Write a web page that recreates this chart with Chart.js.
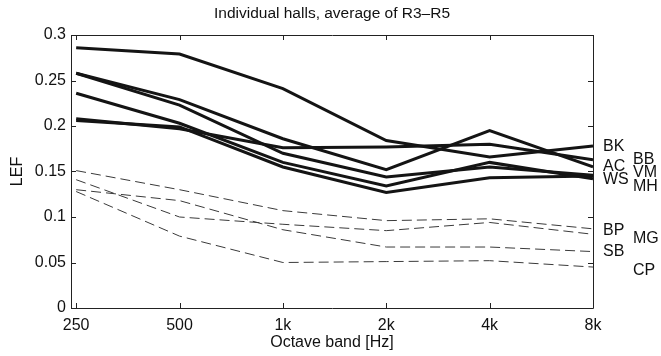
<!DOCTYPE html>
<html><head><meta charset="utf-8">
<script src="https://cdn.jsdelivr.net/npm/chart.js@4/dist/chart.umd.min.js"></script>
<style>html,body{margin:0;padding:0;background:#fff}</style>
</head><body>
<canvas id="c" width="661" height="356"></canvas>
<script>
// Octave band categories (x axis)
const bands = ['250', '500', '1k', '2k', '4k', '8k'];
// Y tick labels
const yTickLabels = ['0', '0.05', '0.1', '0.15', '0.2', '0.25', '0.3'];

// Solid lines (halls)
const BK = [0.286, 0.279, 0.241, 0.184, 0.166, 0.178];
const BB = [0.208, 0.197, 0.176, 0.177, 0.180, 0.163];
const AC = [0.258, 0.229, 0.186, 0.152, 0.195, 0.155];
const VM = [0.258, 0.223, 0.170, 0.144, 0.155, 0.146];
const WS = [0.236, 0.203, 0.160, 0.134, 0.160, 0.142];
const MH = [0.206, 0.199, 0.155, 0.127, 0.143, 0.145];
// Dashed lines (halls)
const BP = [0.151, 0.130, 0.107, 0.096, 0.098, 0.087];
const MG = [0.141, 0.100, 0.092, 0.085, 0.094, 0.081];
const SB = [0.130, 0.118, 0.086, 0.067, 0.067, 0.062];
const CP = [0.128, 0.079, 0.050, 0.051, 0.052, 0.045];

const solidSeries = [BK, BB, AC, VM, WS, MH];
const dashedSeries = [BP, MG, SB, CP];

// End labels at right of the plot
const labelNames = ['BK', 'BB', 'AC', 'VM', 'WS', 'MH', 'BP', 'MG', 'SB', 'CP'];
const labelValues = [0.177, 0.163, 0.155, 0.149, 0.141, 0.133, 0.085, 0.076, 0.062, 0.041];
const labelColumn = [0, 1, 0, 1, 0, 1, 0, 1, 0, 1];

const FONT = '"Liberation Sans", Arial, Helvetica, sans-serif';

const toPts = arr => arr.map((v, i) => ({x: i, y: v}));

const datasets = [];
solidSeries.forEach((s, k) => datasets.push({
  label: labelNames[k], data: toPts(s), borderColor: '#141414', borderWidth: 3,
  pointRadius: 0, tension: 0, fill: false
}));
dashedSeries.forEach((s, k) => datasets.push({
  label: labelNames[6 + k], data: toPts(s), borderColor: '#3a3a3a', borderWidth: 1,
  borderDash: [10, 5], pointRadius: 0, tension: 0, fill: false
}));

const boxPlugin = {
  id: 'box',
  afterDraw(chart) {
    const {ctx, chartArea: a, scales: {x, y}} = chart;
    ctx.save();
    ctx.strokeStyle = '#222';
    ctx.lineWidth = 1;
    ctx.beginPath();
    ctx.rect(a.left + 0.5, a.top + 0.5, a.right - a.left, a.bottom - a.top);
    ctx.stroke();
    const tl = 5;
    ctx.beginPath();
    bands.forEach((b, i) => {
      const px = Math.round(x.getPixelForValue(i)) + 0.5;
      ctx.moveTo(px, a.bottom); ctx.lineTo(px, a.bottom - tl);
      ctx.moveTo(px, a.top); ctx.lineTo(px, a.top + tl);
    });
    yTickLabels.forEach((t, i) => {
      const py = Math.round(y.getPixelForValue(i * 0.05)) + 0.5;
      ctx.moveTo(a.left, py); ctx.lineTo(a.left + tl, py);
      ctx.moveTo(a.right, py); ctx.lineTo(a.right - tl, py);
    });
    ctx.stroke();
    // labels
    ctx.fillStyle = '#111';
    ctx.font = '16px ' + FONT;
    ctx.textBaseline = 'middle';
    ctx.textAlign = 'left';
    labelNames.forEach((n, i) => {
      const px = a.right + 10 + labelColumn[i] * 30;
      ctx.fillText(n, px, y.getPixelForValue(labelValues[i]));
    });
    ctx.restore();
  }
};

new Chart(document.getElementById('c'), {
  type: 'line',
  data: {datasets},
  options: {
    responsive: false,
    animation: false,
    devicePixelRatio: 1,
    layout: {padding: {left: 0, right: 68, top: 0, bottom: 0}},
    plugins: {
      legend: {display: false},
      tooltip: {enabled: false},
      title: {
        display: true, fullSize: false, text: 'Individual halls, average of R3\u2013R5', color: '#111',
        font: {family: FONT, size: 15.5, weight: 'normal'},
        padding: {top: 4, bottom: 12.4}
      }
    },
    scales: {
      x: {
        type: 'linear', min: -0.05, max: 5.0,
        grid: {display: false, drawTicks: false},
        border: {display: false},
        afterFit(s) { s.height = 48; },
        afterBuildTicks(s) { s.ticks = bands.map((b, i) => ({value: i})); },
        ticks: {
          autoSkip: false, maxRotation: 0, padding: 8, color: '#111',
          font: {family: FONT, size: 16},
          callback: (v) => bands[Math.round(v)]
        },
        title: {display: true, text: 'Octave band [Hz]', color: '#111',
          font: {family: FONT, size: 16}, padding: {top: 0, bottom: 4}}
      },
      y: {
        type: 'linear', min: 0, max: 0.3,
        grid: {display: false, drawTicks: false},
        border: {display: false},
        afterFit(s) { s.width = 71; },
        afterBuildTicks(s) { s.ticks = yTickLabels.map((t, i) => ({value: i * 0.05})); },
        ticks: {
          padding: 5, color: '#111',
          font: {family: FONT, size: 16},
          callback: (v) => yTickLabels[Math.round(v / 0.05)]
        },
        title: {display: true, text: 'LEF', color: '#111',
          font: {family: FONT, size: 16}, padding: {top: 8, bottom: 0}}
      }
    }
  },
  plugins: [boxPlugin]
});
</script>
</body></html>
